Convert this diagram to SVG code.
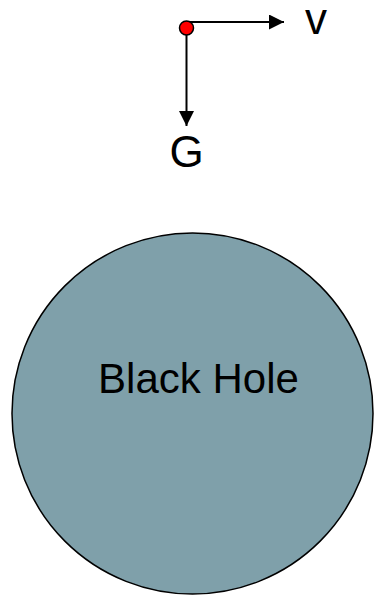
<svg xmlns="http://www.w3.org/2000/svg" width="374" height="596" viewBox="0 0 374 596">
<style>
.lbl{font-family:"Liberation Sans",Arial,sans-serif;fill:#000}
.ln{stroke:#000;stroke-width:2;fill:none}
</style>
<defs>
<marker id="ah" viewBox="0 0 10 10" refX="10" refY="5" markerWidth="7.5" markerHeight="7.5" markerUnits="strokeWidth" orient="auto">
<path d="M0,0 L10,5 L0,10 z" fill="#000"/>
</marker>
</defs>
<rect width="374" height="596" fill="#fff"/>
<g id="black-hole">
<circle cx="192.5" cy="413.5" r="180.5" fill="#7fa0aa" stroke="#000" stroke-width="1.5"/>
<text class="lbl" x="198.5" y="393" font-size="42" text-anchor="middle">Black Hole</text>
</g>
<g id="connectors">
<line class="ln" x1="187" y1="22" x2="284" y2="22" marker-end="url(#ah)"/>
<line class="ln" x1="186.5" y1="28" x2="186.5" y2="126" marker-end="url(#ah)"/>
</g>
<g id="particle">
<circle cx="186.5" cy="28" r="7" fill="#f00" stroke="#000" stroke-width="1.5"/>
</g>
<g id="label-v">
<text class="lbl" x="316" y="34" font-size="44" text-anchor="middle">v</text>
</g>
<g id="label-G">
<text class="lbl" x="186.5" y="167" font-size="44" text-anchor="middle">G</text>
</g>
</svg>
